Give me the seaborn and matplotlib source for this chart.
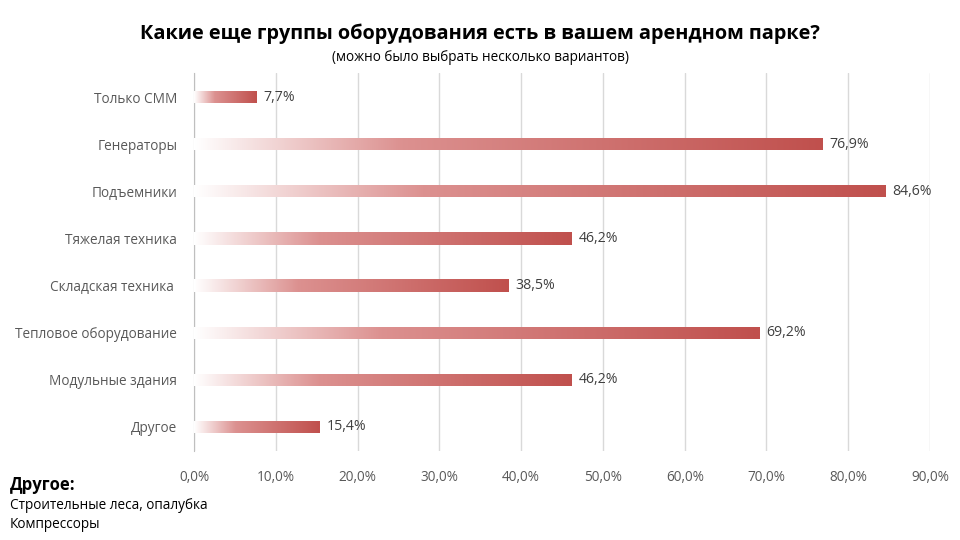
import numpy as np
import pandas as pd
import matplotlib
matplotlib.use("Agg")
import matplotlib.pyplot as plt
from matplotlib.colors import LinearSegmentedColormap
import seaborn as sns

# ------------------------------------------------------------
# Data
# ------------------------------------------------------------
categories = [
    "Только СММ",
    "Генераторы",
    "Подъемники",
    "Тяжелая техника",
    "Складская техника ",
    "Тепловое оборудование",
    "Модульные здания",
    "Другое",
]
shares = [0.077, 0.769, 0.846, 0.462, 0.385, 0.692, 0.462, 0.154]
x_ticks = [0.0, 0.1, 0.2, 0.3, 0.4, 0.5, 0.6, 0.7, 0.8, 0.9]

title = "Какие еще группы оборудования есть в вашем арендном парке?"
subtitle = "(можно было выбрать несколько вариантов)"
note_head = "Другое:"
note_lines = ["Строительные леса, опалубка", "Компрессоры"]

df = pd.DataFrame({"category": categories, "share": shares})

# ------------------------------------------------------------
# Style
# ------------------------------------------------------------
sns.set_style("white")
plt.rcParams["font.family"] = ["Open Sans", "DejaVu Sans"]

grad = LinearSegmentedColormap.from_list(
    "red_grad", [(0.0, "#FFFFFF"), (0.33, "#DC9190"), (1.0, "#C0504D")]
)

fig = plt.figure(figsize=(9.6, 5.4), dpi=100)
ax = fig.add_axes([0.2021, 0.1657, 0.7667, 0.6982])

sns.barplot(data=df, x="share", y="category", orient="h",
            color="#C0504D", width=0.26, ax=ax, zorder=2)

# gradient fill inside each bar
gradient = np.linspace(0, 1, 256).reshape(1, -1)
for patch in ax.patches:
    x0, y0 = patch.get_x(), patch.get_y()
    w, h = patch.get_width(), patch.get_height()
    im = ax.imshow(gradient, cmap=grad, aspect="auto",
                   extent=[x0, x0 + w, y0 + h, y0], zorder=3,
                   interpolation="bilinear")
    im.set_clip_path(patch)
    patch.set_facecolor("none")
    patch.set_edgecolor("none")
    ax.text(x0 + w + 0.008, y0 + h / 2, f"{w * 100:.1f}%".replace(".", ","),
            va="center", ha="left", fontsize=10.2, color="#404040")

ax.set_xlim(0, 0.9)
ax.set_ylim(len(categories) - 0.5, -0.5)
ax.set_xticks(x_ticks)
ax.set_xticklabels([f"{t * 100:.1f}%".replace(".", ",") for t in x_ticks])
ax.xaxis.grid(True, color="#D9D9D9", linewidth=1)
ax.set_axisbelow(True)
ax.set_xlabel("")
ax.set_ylabel("")
for s in ["top", "right", "bottom"]:
    ax.spines[s].set_visible(False)
ax.spines["left"].set_color("#BFBFBF")
ax.tick_params(axis="both", length=0, labelsize=9.8, labelcolor="#595959")
ax.tick_params(axis="x", pad=14)
ax.tick_params(axis="y", pad=12)

fig.text(0.5, 0.938, title, ha="center", va="center",
         fontsize=14.3, fontweight="bold", color="black")
fig.text(0.5, 0.893, subtitle, ha="center", va="center",
         fontsize=9.8, color="black")

fig.text(0.01, 0.102, note_head, ha="left", va="center",
         fontsize=12, fontweight="bold", color="black")
fig.text(0.01, 0.064, note_lines[0], ha="left", va="center",
         fontsize=9.8, color="black")
fig.text(0.01, 0.028, note_lines[1], ha="left", va="center",
         fontsize=9.8, color="black")

fig.savefig("out.png", dpi=100, facecolor="white")
